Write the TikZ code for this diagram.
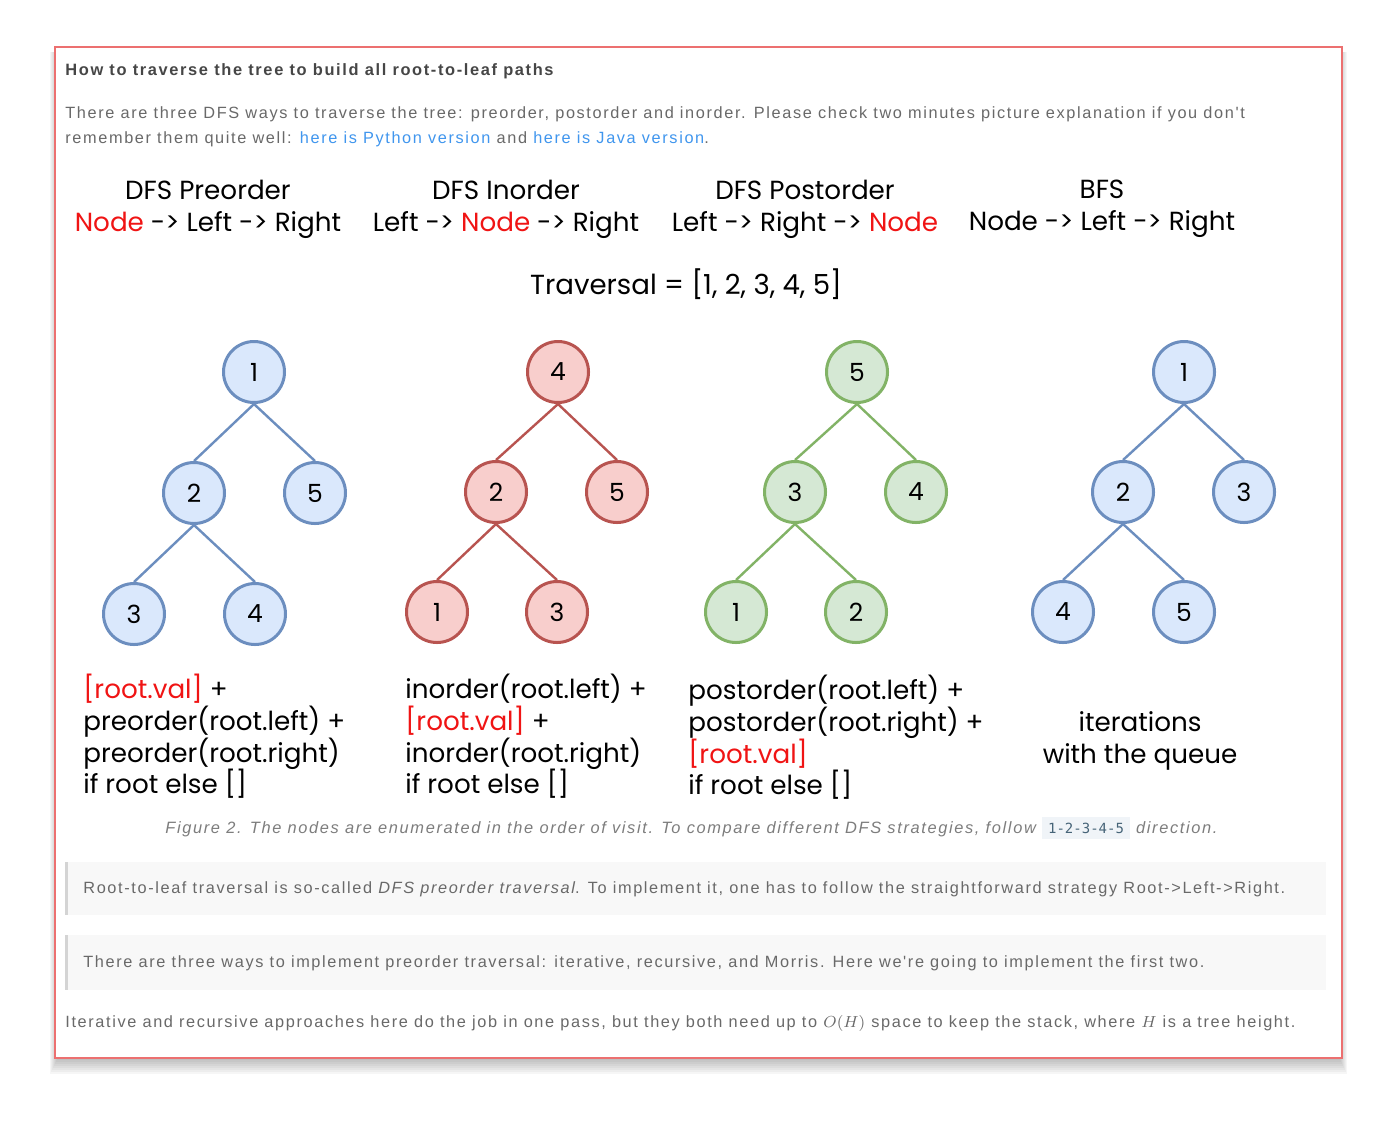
\documentclass[tikz,border=0pt]{standalone}
\usepackage{fontspec}
\setmainfont{Liberation Sans}
\setmonofont{DejaVu Sans Mono}
\newfontfamily\handfont{Poppins}
\newfontfamily\bodyfont[LetterSpace=10]{Liberation Sans}
\definecolor{frameRed}{RGB}{236,112,112}
\definecolor{titleGray}{RGB}{70,70,70}
\definecolor{bodyGray}{RGB}{105,105,105}
\definecolor{capGray}{RGB}{125,125,125}
\definecolor{linkBlue}{RGB}{64,150,238}
\definecolor{quoteBg}{RGB}{248,248,248}
\definecolor{quoteBar}{RGB}{212,212,212}
\definecolor{codeBg}{RGB}{240,244,248}
\definecolor{codeInk}{RGB}{70,100,120}
\definecolor{hotRed}{RGB}{240,20,20}
\definecolor{blueFill}{RGB}{218,232,252}
\definecolor{blueLine}{RGB}{108,142,191}
\definecolor{redFill}{RGB}{248,206,204}
\definecolor{redLine}{RGB}{184,84,80}
\definecolor{greenFill}{RGB}{213,232,212}
\definecolor{greenLine}{RGB}{130,179,102}
\tikzset{
  vertex/.style={circle, line width=1.5pt, minimum size=30.5pt, inner sep=0pt,
    font=\handfont\fontsize{12.5}{15}\selectfont},
  bluev/.style={vertex, draw=blueLine, fill=blueFill},
  redv/.style={vertex, draw=redLine, fill=redFill},
  greenv/.style={vertex, draw=greenLine, fill=greenFill},
  head/.style={align=center, inner sep=0pt, font=\handfont\fontsize{13.1}{16}\selectfont},
  code/.style={align=left, anchor=north west, inner sep=0pt,
    font=\handfont\fontsize{13.1}{15.8}\selectfont},
  body/.style={anchor=west, inner sep=0pt, text=bodyGray,
    font=\bodyfont\fontsize{8.15}{9}\selectfont},
}
\begin{document}
\begin{tikzpicture}[x=0.5pt,y=-0.5pt]
  \useasboundingbox (0,0) rectangle (1400,1126);
  % shadow under the card
  \foreach \i in {1,...,8}
    \fill[black, opacity=0.035] (58-\i,52) rectangle (1339+\i,1058+2*\i);
  \draw[frameRed, line width=1.2pt, fill=white] (55,47) rectangle (1342,1058);

  \node[body, text=titleGray, font=\bodyfont\bfseries\fontsize{8.2}{9}\selectfont]
    (title) at (65,71) {How to traverse the tree to build all root-to-leaf paths};
  \node[body] (intro1) at (65,114) {There are three DFS ways to traverse the tree: preorder, postorder and inorder. Please check two minutes picture explanation if you don't};
  \node[body] (intro2) at (65,139) {remember them quite well: \textcolor{linkBlue}{here is Python version} and \textcolor{linkBlue}{here is Java version}.};

  \node[head] (preHead) at (208,209) {DFS Preorder\\\textcolor{hotRed}{Node} -> Left -> Right};
  \node[head] (inHead) at (506,209) {DFS Inorder\\Left -> \textcolor{hotRed}{Node} -> Right};
  \node[head] (postHead) at (805,209) {DFS Postorder\\Left -> Right -> \textcolor{hotRed}{Node}};
  \node[head] (bfsHead) at (1102,209) {BFS\\Node -> Left -> Right};
  \node[head, font=\handfont\fontsize{13.8}{16}\selectfont] (order) at (686,284) {Traversal = [1, 2, 3, 4, 5]};

  % preorder tree
  \node[bluev] (pre1) at (254,372) {1};
  \node[bluev] (pre2) at (194,493) {2};
  \node[bluev] (pre5) at (315,493) {5};
  \node[bluev] (pre3) at (134,614) {3};
  \node[bluev] (pre4) at (255,614) {4};
  % inorder tree
  \node[redv] (in4) at (558,372) {4};
  \node[redv] (in2) at (496,492) {2};
  \node[redv] (in5) at (617,492) {5};
  \node[redv] (in1) at (437,612) {1};
  \node[redv] (in3) at (557,612) {3};
  % postorder tree
  \node[greenv] (post5) at (857,372) {5};
  \node[greenv] (post3) at (795,492) {3};
  \node[greenv] (post4) at (916,492) {4};
  \node[greenv] (post1) at (736,612) {1};
  \node[greenv] (post2) at (856,612) {2};
  % bfs tree
  \node[bluev] (bfs1) at (1184,372) {1};
  \node[bluev] (bfs2) at (1123,492) {2};
  \node[bluev] (bfs3) at (1244,492) {3};
  \node[bluev] (bfs4) at (1063,612) {4};
  \node[bluev] (bfs5) at (1184,612) {5};

  \begin{scope}[line width=1.2pt]
    \draw[blueLine] (pre1.south) -- (pre2.north);
    \draw[blueLine] (pre1.south) -- (pre5.north);
    \draw[blueLine] (pre2.south) -- (pre3.north);
    \draw[blueLine] (pre2.south) -- (pre4.north);
    \draw[redLine] (in4.south) -- (in2.north);
    \draw[redLine] (in4.south) -- (in5.north);
    \draw[redLine] (in2.south) -- (in1.north);
    \draw[redLine] (in2.south) -- (in3.north);
    \draw[greenLine] (post5.south) -- (post3.north);
    \draw[greenLine] (post5.south) -- (post4.north);
    \draw[greenLine] (post3.south) -- (post1.north);
    \draw[greenLine] (post3.south) -- (post2.north);
    \draw[blueLine] (bfs1.south) -- (bfs2.north);
    \draw[blueLine] (bfs1.south) -- (bfs3.north);
    \draw[blueLine] (bfs2.south) -- (bfs4.north);
    \draw[blueLine] (bfs2.south) -- (bfs5.north);
  \end{scope}

  \node[code] (preCode) at (83,674) {\textcolor{hotRed}{[root.val]} +\\preorder(root.left) +\\preorder(root.right)\\if root else []};
  \node[code] (inCode) at (405,674) {inorder(root.left) +\\\textcolor{hotRed}{[root.val]} +\\inorder(root.right)\\if root else []};
  \node[code] (postCode) at (688,675) {postorder(root.left) +\\postorder(root.right) +\\\textcolor{hotRed}{[root.val]}\\if root else []};
  \node[head] (bfsCode) at (1140,741) {iterations\\with the queue};

  \node[body, text=capGray, font=\bodyfont\itshape\fontsize{8.2}{9}\selectfont] (caption) at (165,828)
    {Figure 2. The nodes are enumerated in the order of visit. To compare different DFS strategies, follow \colorbox{codeBg}{\textcolor{codeInk}{\ttfamily\upshape\fontsize{7}{8}\selectfont 1-2-3-4-5}} direction.};

  \fill[quoteBg] (65,862) rectangle (1326,915);
  \fill[quoteBar] (65,862) rectangle (68,915);
  \node[body] (quote1) at (83,889) {Root-to-leaf traversal is so-called \textit{DFS preorder traversal}. To implement it, one has to follow the straightforward strategy Root->Left->Right.};
  \fill[quoteBg] (65,935) rectangle (1326,990);
  \fill[quoteBar] (65,935) rectangle (68,990);
  \node[body] (quote2) at (83,963) {There are three ways to implement preorder traversal: iterative, recursive, and Morris. Here we're going to implement the first two.};
  \node[body] (outro) at (65,1023) {Iterative and recursive approaches here do the job in one pass, but they both need up to $O(H)$ space to keep the stack, where $H$ is a tree height.};
\end{tikzpicture}
\end{document}
